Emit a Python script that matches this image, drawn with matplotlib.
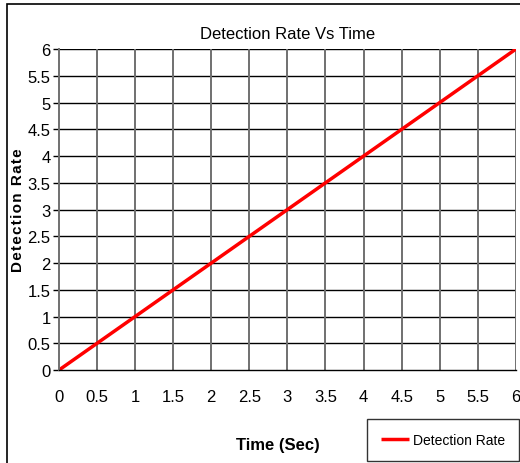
import matplotlib.pyplot as plt
from matplotlib.patches import Rectangle

plt.rcParams['font.family'] = ['Liberation Sans', 'DejaVu Sans']

time_sec = [0, 0.5, 1, 1.5, 2, 2.5, 3, 3.5, 4, 4.5, 5, 5.5, 6]
detection_rate = [0, 0.5, 1, 1.5, 2, 2.5, 3, 3.5, 4, 4.5, 5, 5.5, 6]
tick_labels = ['0', '0.5', '1', '1.5', '2', '2.5', '3', '3.5', '4', '4.5', '5', '5.5', '6']

fig = plt.figure(figsize=(5.2, 4.64), dpi=100)
ax = fig.add_axes([0.1135, 0.2004, 0.8785, 0.6916])

# outer chart border
fig.patches.append(Rectangle((0.0135, -0.05), 1.2, 1.039, transform=fig.transFigure,
                             fill=False, edgecolor='black', linewidth=1.2))

ax.plot(time_sec, detection_rate, color='#ff0000', linewidth=2.5, label='Detection Rate',
        solid_capstyle='butt')

ax.set_xlim(0, 6)
ax.set_ylim(0, 6)
ax.set_xticks(time_sec)
ax.set_xticklabels(tick_labels)
ax.set_yticks(time_sec)
ax.set_yticklabels(tick_labels)

for v in time_sec[1:]:
    ax.axhline(v, color='black', linewidth=1, zorder=1)
for v in time_sec[1:]:
    ax.axvline(v, color='#707070', linewidth=1.4, zorder=1)

for s in ['top', 'right']:
    ax.spines[s].set_visible(False)
ax.spines['left'].set_color('#707070')
ax.spines['left'].set_linewidth(1.4)
ax.spines['bottom'].set_color('black')
ax.spines['bottom'].set_linewidth(1)

ax.tick_params(axis='y', length=4, width=1, color='black', labelsize=12, pad=2)
ax.tick_params(axis='x', length=0, labelsize=12, pad=14)

ax.set_title('Detection Rate Vs Time', fontsize=12, pad=8)
ax.set_xlabel('Time (Sec)', fontsize=12, fontweight='bold')
ax.xaxis.set_label_coords(0.48, -0.21)
ax.set_ylabel('D\u200ae\u200at\u200ae\u200ac\u200at\u200ai\u200ao\u200an\u2009 R\u200aa\u200at\u200ae',
              fontsize=11, fontweight='bold')
ax.yaxis.set_label_coords(-0.075, 0.5)

leg = ax.legend(loc='lower right', bbox_to_anchor=(1.0065, -0.283), frameon=True,
                fancybox=False, fontsize=10, handlelength=2.0, borderpad=1.0,
                handletextpad=0.3, borderaxespad=0)
leg.get_frame().set_edgecolor('black')
leg.get_frame().set_linewidth(1)

plt.savefig('out.png', dpi=100)
